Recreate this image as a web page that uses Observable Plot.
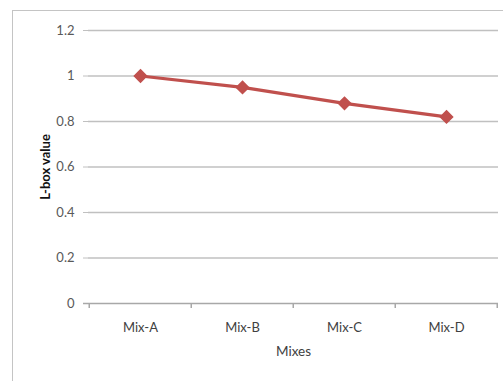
<!DOCTYPE html>
<html>
<head>
<meta charset="utf-8">
<script src="https://cdn.jsdelivr.net/npm/d3@7"></script>
<script src="https://cdn.jsdelivr.net/npm/@observablehq/plot@0.6"></script>
<style>
  html, body { margin: 0; padding: 0; background: #fff; }
  #wrap { position: relative; width: 503px; height: 381px; overflow: hidden; }
  #frame { position: absolute; left: 12px; top: 10px; width: 600px; height: 500px;
           border-left: 1px solid #c4c4c4; border-top: 1px solid #c4c4c4; }
  #chart { position: absolute; left: 0; top: 0; }
  #chart svg { font-family: Lato, "Open Sans", sans-serif; }
  #chart g[aria-label="y-axis label"] text { font-weight: bold; fill: #111; font-size: 13px; }
  #chart g[aria-label="x-axis label"] text { font-size: 13.5px; fill: #404040; }
</style>
</head>
<body>
<div id="wrap">
  <div id="frame"></div>
  <div id="chart"></div>
</div>
<script>
// L-box test results for each mix
const mixes = ["Mix-A", "Mix-B", "Mix-C", "Mix-D"];
const lboxValues = [1.0, 0.95, 0.88, 0.82];
const yTicks = [0, 0.2, 0.4, 0.6, 0.8, 1, 1.2];

const data = mixes.map((m, i) => ({mix: m, value: lboxValues[i]}));

const W = 503, H = 381;
const mL = 88, mR = 5, mT = 30, mB = 78;
const band = (W - mL - mR) / mixes.length;
const red = "#C0504D";
const grid = "#c0c0c0";

const chart = Plot.plot({
  width: W,
  height: H,
  marginLeft: mL,
  marginRight: mR,
  marginTop: mT,
  marginBottom: mB,
  style: {background: "transparent", fontSize: "13px", color: "#595959"},
  x: {type: "band", domain: mixes, padding: 0},
  y: {domain: [0, 1.2]},
  marks: [
    // horizontal gridlines
    Plot.ruleY(yTicks.filter(d => d > 0), {stroke: grid, strokeWidth: 1.5, strokeOpacity: 1}),
    // y axis
    Plot.axisY({
      ticks: yTicks, tickSize: 5, tickPadding: 9, stroke: grid, strokeOpacity: 1,
      fill: "#595959", tickFormat: d => String(d),
      label: "L-box value", labelAnchor: "center", labelArrow: "none", labelOffset: 48
    }),
    Plot.ruleX([0], {stroke: grid, strokeWidth: 1.5}),
    // x axis baseline and band separators
    Plot.ruleY([0], {stroke: "#a8a8a8", strokeWidth: 1.5, insetLeft: -5}),
    Plot.ruleX(mixes, {x: d => d, dx: -band / 2, y1: 0, y2: -0.022, stroke: "#a8a8a8", strokeWidth: 1.5}),
    Plot.ruleX([mixes[mixes.length - 1]], {x: d => d, dx: band / 2 - 0.5, y1: 0, y2: -0.022, stroke: "#a8a8a8", strokeWidth: 1.5}),
    Plot.axisX({
      tickSize: 0, tickPadding: 19, fill: "#404040",
      label: "Mixes", labelAnchor: "center", labelArrow: "none", labelOffset: 52
    }),
    // data series
    Plot.line(data, {x: "mix", y: "value", stroke: red, strokeWidth: 3.2}),
    Plot.dot(data, {x: "mix", y: "value", symbol: "diamond2", r: 5.5, fill: red, stroke: red})
  ]
});

document.getElementById("chart").appendChild(chart);
</script>
</body>
</html>
